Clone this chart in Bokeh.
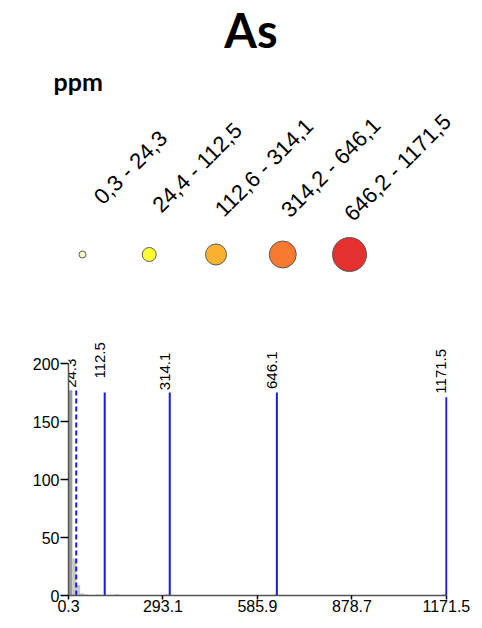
import math
from bokeh.plotting import figure
from bokeh.models import Range1d, FixedTicker, ColumnDataSource
from bokeh.core.properties import value
from bokeh.embed import file_html
from bokeh.resources import INLINE

# ---------------- data ----------------
title_text = "As"
unit_text = "ppm"
class_labels = ["0,3 - 24,3", "24,4 - 112,5", "112,6 - 314,1", "314,2 - 646,1", "646,2 - 1171,5"]
class_colors = ["#fdf8c6", "#ffff36", "#fbb030", "#f77a30", "#e4302f"]
class_sizes = [7, 14, 21, 27, 34]

hist_left = [0.3, 12.3, 24.3, 36.3, 48.3, 84.3, 144.3, 300.3, 636.3, 1159.5]
hist_right = [12.3, 24.3, 36.3, 48.3, 60.3, 96.3, 156.3, 312.3, 648.3, 1171.5]
hist_counts = [177, 32, 9, 2, 1, 1, 1, 1, 1, 1]
hist_colors = ["#9c9c9c"] + ["#c8c8c8"] * 9

breaks = [24.3, 112.5, 314.1, 646.1, 1171.5]
break_labels = ["24.3", "112.5", "314.1", "646.1", "1171.5"]
break_heights = [177, 175, 175, 175, 171]

x_ticks = [0.3, 293.1, 585.9, 878.7, 1171.5]
x_tick_labels = ["0.3", "293.1", "585.9", "878.7", "1171.5"]
y_ticks = [0, 50, 100, 150, 200]

# ---------------- top: title + legend ----------------
W = 474
TOP_H = 338
top = figure(width=W, height=TOP_H, x_range=Range1d(0, W), y_range=Range1d(0, TOP_H),
             output_backend="svg", toolbar_location=None, min_border=0)
top.axis.visible = False
top.grid.visible = False
top.outline_line_color = None

top.text(x=[250.5], y=[309], text=[title_text], text_font=value("Lato"),
         text_font_style="bold", text_font_size="47px", text_align="center",
         text_baseline="middle", text_color="black")
top.text(x=[53], y=[258], text=[unit_text], text_font=value("Lato"),
         text_font_style="bold", text_font_size="25px", text_align="left",
         text_baseline="middle", text_color="black")

n = len(class_labels)
cx = [82 + 66.75 * i for i in range(n)]
leg = ColumnDataSource(dict(x=cx, y=[84] * n, lx=[c + 48 for c in cx], ly=[171] * n,
                            size=class_sizes, color=class_colors, label=class_labels))
top.scatter(x="x", y="y", size="size", fill_color="color", line_color="#5a5a5a",
            line_width=1, source=leg)
top.text(x="lx", y="ly", text="label", angle=math.pi / 4, text_align="center",
         text_baseline="middle", text_font=value("Liberation Sans"),
         text_font_size="22px", text_color="black", source=leg)

# ---------------- bottom: histogram ----------------
BOT_H = 282
y_top = 200 * 255 / 232
bot = figure(width=W, height=BOT_H, x_range=Range1d(0.3, 1175.0), y_range=Range1d(0, y_top),
             output_backend="svg", toolbar_location=None,
             min_border_left=68, min_border_right=27, min_border_top=2, min_border_bottom=25)
bot.grid.visible = False
bot.outline_line_color = None

hsrc = ColumnDataSource(dict(left=hist_left, right=hist_right, top=hist_counts,
                             bottom=[0] * len(hist_counts), color=hist_colors))
bot.quad(left="left", right="right", top="top", bottom="bottom", fill_color="color",
         line_color=None, source=hsrc)

bot.segment(x0=breaks[:1], y0=[0], x1=breaks[:1], y1=break_heights[:1],
            line_color="#1a1ae0", line_width=2, line_dash="5 3")
bot.segment(x0=breaks[1:], y0=[0] * 4, x1=breaks[1:], y1=break_heights[1:],
            line_color="#1a1ae0", line_width=2)

label_gap = [2, 12, 2, 3, 3]
bot.text(x=breaks, y=[h + g for h, g in zip(break_heights, label_gap)], text=break_labels,
         angle=math.pi / 2, text_align="left", text_baseline="bottom",
         text_font=value("Liberation Sans"), text_font_size="15px", text_color="black")

bot.xaxis.ticker = FixedTicker(ticks=x_ticks)
bot.xaxis.major_label_overrides = {t: l for t, l in zip(x_ticks, x_tick_labels)}
bot.xaxis.bounds = (0.3, 1171.5)
bot.yaxis.ticker = FixedTicker(ticks=y_ticks)
bot.yaxis.bounds = (0, 200)
for ax in (bot.xaxis[0], bot.yaxis[0]):
    ax.minor_tick_line_color = None
    ax.axis_line_color = "#555555"
    ax.axis_line_width = 1.5
    ax.major_tick_line_color = "black"
    ax.major_tick_line_width = 1.5
    ax.major_tick_in = 0
    ax.major_label_text_font = "Liberation Sans"
    ax.major_label_text_font_size = "16px"
    ax.major_label_text_color = "black"
bot.xaxis.major_tick_out = 4
bot.xaxis.major_label_standoff = 0
bot.yaxis.major_tick_out = 8
bot.yaxis.major_label_standoff = 1

open("out.html", "w").write(file_html([top, bot], INLINE))
